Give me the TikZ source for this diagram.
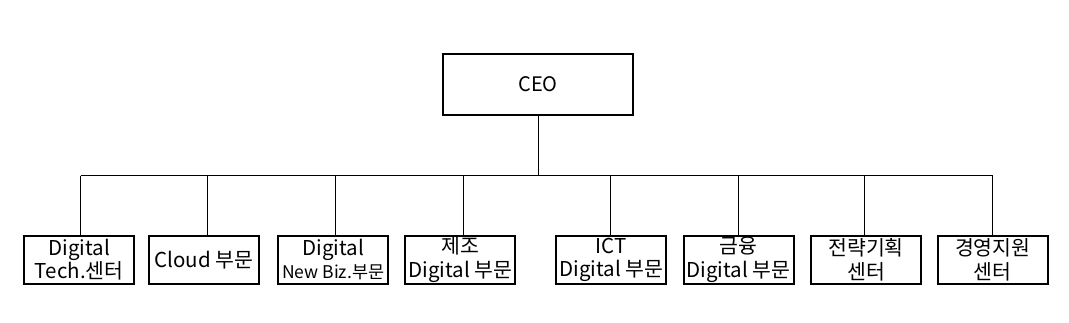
\documentclass[tikz,border=0pt]{standalone}
\usepackage{fontspec}
\setmainfont{Noto Sans CJK KR}
\begin{document}
\begin{tikzpicture}[x=1pt,y=-1pt,
  box/.style={draw,line width=2pt,minimum width=110pt,minimum height=48pt,inner sep=0pt,align=center,
    font=\fontsize{20.5}{23.5}\selectfont},
  ceobox/.style={draw,line width=2pt,minimum width=190pt,minimum height=61pt,inner sep=0pt,
    font=\fontsize{20}{23}\selectfont},
  conn/.style={line width=1pt}]
\useasboundingbox (0,0) rectangle (1069,322);
\node[ceobox] (ceo) at (538,84.3) {CEO};
\node[box] (d1) at (79.2,259.75) {Digital\\Tech.센터};
\node[box] (d2) at (203.8,259.75) {Cloud 부문};
\node[box] (d3) at (333.3,259.75) {Digital\\{\fontsize{17.5}{20}\selectfont New Biz.부문}};
\node[box] (d4) at (460.4,259.75) {제조\\Digital 부문};
\node[box] (d5) at (611.4,259.75) {ICT\\Digital 부문};
\node[box] (d6) at (738.5,259.75) {금융\\Digital 부문};
\node[box] (d7) at (866,259.75) {전략기획\\센터};
\node[box] (d8) at (992.8,259.75) {경영지원\\센터};
\coordinate (t1) at (80.7,175.7);
\coordinate (t2) at (207.7,175.7);
\coordinate (t3) at (335.3,175.7);
\coordinate (t4) at (463.3,175.7);
\coordinate (t5) at (610.3,175.7);
\coordinate (t6) at (738.3,175.7);
\coordinate (t7) at (864.3,175.7);
\coordinate (t8) at (992.7,175.7);
\draw[conn] (ceo.south) -- (ceo.south |- t1);
\draw[conn] (t1) -- (t8);
\foreach \i in {1,...,8}{\draw[conn] (t\i) -- (t\i |- d\i.north);}
\end{tikzpicture}
\end{document}
